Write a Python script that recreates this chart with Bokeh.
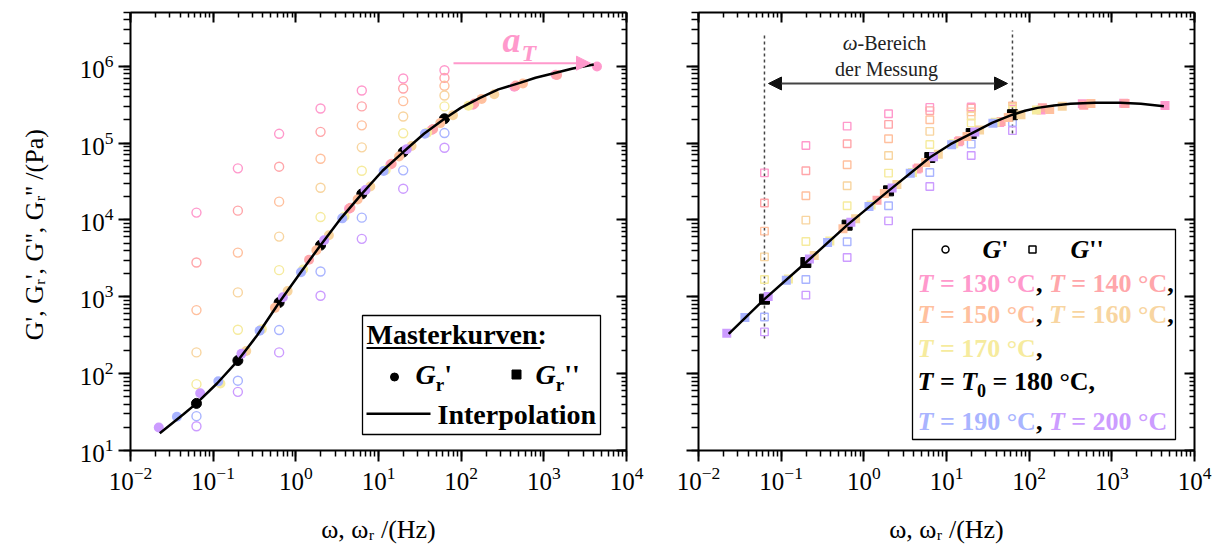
import numpy as np
from bokeh.plotting import figure
from bokeh.models import LogAxis, LogTicker, Arrow, NormalHead, Range1d, CustomJSTickFormatter
from bokeh.layouts import row
from bokeh.embed import file_html
from bokeh.resources import INLINE
from bokeh.core.properties import value

# ---------------- data ----------------
omega = [0.0628, 0.199, 0.628, 1.99, 6.28, 19.9, 62.8]          # Hz
temperatures = [130, 140, 150, 160, 170, 180, 190, 200]           # degC
colors = ["#FF99CC", "#FFA6AA", "#FFC09E", "#F8D5A0", "#F6EB9E",
          "#000000", "#A9B4FF", "#CC9CFF"]
a_T = [70, 23, 8.9, 4.0, 1.95, 1.0, 0.58, 0.35]                   # horizontal shift
b_T = [1.12, 1.09, 1.07, 1.04, 1.02, 1.0, 0.98, 0.96]             # vertical shift

# storage modulus G' (Pa)
G1_130 = [12450, 46900, 132000, 282000, 483000, 692000, 887000]
G1_140 = [2790, 13200, 49300, 140000, 300000, 513000, 705000]
G1_150 = [671, 3760, 17300, 62500, 170000, 351000, 556000]
G1_160 = [189, 1140, 6070, 26200, 88000, 222000, 416000]
G1_170 = [73, 372, 2220, 10900, 43700, 134000, 300000]
G1_180 = [41, 148, 843, 4690, 21800, 76400, 207000]
G1_190 = [28, 81, 369, 2130, 10700, 44200, 135000]
G1_200 = [20.7, 58, 189, 1030, 5670, 25500, 86900]

# loss modulus G'' (Pa)
G2_130 = [41000, 93000, 166000, 241000, 291000, 295000, 275000]
G2_140 = [16600, 43600, 98000, 175000, 264000, 285000, 300000]
G2_150 = [7150, 20600, 52200, 114000, 201000, 255000, 305000]
G2_160 = [3310, 9940, 27800, 69000, 142000, 225000, 290000]
G2_170 = [1675, 5230, 15300, 40700, 95900, 183000, 265000]
G2_180 = [931, 2790, 8550, 23900, 64900, 133000, 234000]
G2_190 = [547, 1675, 5190, 15300, 41400, 97000, 185000]
G2_200 = [349, 1050, 3240, 9730, 27200, 69000, 145000]

# interpolated master curves
master1_w = [0.0226, 0.0441, 0.0628, 0.112, 0.199, 0.341, 0.628, 1.12, 1.99, 3.55,
             6.28, 11.2, 19.9, 35.5, 62.8, 100, 169, 282, 513, 794, 1285, 2240, 4017]
master1_G = [16.8, 29.9, 41, 75, 148, 316, 843, 2010, 4690, 10650,
             21800, 43600, 76400, 132000, 207000, 289000, 387000, 500000, 607000, 708000,
             804000, 935000, 1050000]
master2_w = [0.0232, 0.0628, 0.199, 0.628, 1.99, 6.28, 11.2, 19.9, 35.5, 62.8, 89, 126,
             200, 316, 631, 1259, 2239, 4260]
master2_G = [330, 931, 2790, 8550, 23900, 64900, 96600, 133000, 183000, 234000, 263000, 287000,
             309000, 325000, 335000, 334000, 324000, 302000]

G1 = [G1_130, G1_140, G1_150, G1_160, G1_170, G1_180, G1_190, G1_200]
G2 = [G2_130, G2_140, G2_150, G2_160, G2_170, G2_180, G2_190, G2_200]

# ---------------- geometry / helpers ----------------
FW, FH = 496, 438
TOP = 12
L0, R0 = 130, 698
XLO, XHI = 1e-2, 1e4
YLO, YHI = 10, 5e6
FONT = "Liberation Serif"


def xpx(px, x0):
    return 10 ** (np.log10(XLO) + (np.log10(XHI) - np.log10(XLO)) * (px - x0) / FW)


def ypx(py):
    return 10 ** (np.log10(YLO) + (np.log10(YHI) - np.log10(YLO)) * (TOP + FH - py) / FH)


TB = {' ': 250, '=': 570, '\u00b0': 400, 'C': 722, ',': 250, "'": 278, 'r': 444, ':': 333, '-': 333}
for d in '0123456789':
    TB[d] = 500
TBI = {'T': 611, 'G': 722, 'a': 500}


def wid(s, size, italic=False):
    tab = TBI if italic else TB
    return sum(tab.get(c, 500) for c in s) * size / 1000.0


def put_text(p, x, base_px, s, color, size, style, align="left"):
    # place by baseline (screen px) using a middle anchor
    p.text(x=[x], y=[ypx(base_px - 0.33 * size)], text=[s], text_font=value(FONT),
           text_font_size=value(f"{size}px"), text_font_style=style, text_color=color,
           text_align=align, text_baseline="middle")


def seq(p, x0, px, base, pieces):
    x = px
    for s, style, color, size, dy in pieces:
        it = "italic" in style
        lead = len(s) - len(s.lstrip(' '))
        x += lead * 250 * size / 1000.0
        core = s.strip(' ')
        put_text(p, xpx(x, x0), base + dy, core, color, size, style)
        x += wid(core, size, it)
        trail = len(s) - len(s.rstrip(' '))
        x += trail * 250 * size / 1000.0
    return x


def style_axis(ax, labels=True, inward=False, major=11, minor=6):
    ax.ticker = LogTicker(num_minor_ticks=10)
    ax.axis_line_width = 2
    ax.axis_line_color = "black"
    ax.major_tick_line_width = 2
    ax.minor_tick_line_width = 1.5
    if inward:
        ax.major_tick_in, ax.major_tick_out = 10, 0
        ax.minor_tick_in, ax.minor_tick_out = 5, 0
    else:
        ax.major_tick_in, ax.major_tick_out = 0, major
        ax.minor_tick_in, ax.minor_tick_out = 0, minor
    ax.major_label_text_font = FONT
    ax.major_label_text_font_size = "25px"
    ax.major_label_text_color = "black"
    ax.axis_label_text_font = FONT
    ax.axis_label_text_font_size = "26px"
    ax.axis_label_text_font_style = "normal"
    ax.axis_label_text_color = "black"
    if not labels:
        ax.formatter = CustomJSTickFormatter(code="return ''")
        ax.major_label_standoff = 0


def make_fig(left_border, right_border, ylabels):
    p = figure(x_axis_type="log", y_axis_type="log",
               x_range=Range1d(XLO, XHI), y_range=Range1d(YLO, YHI),
               frame_width=FW, frame_height=FH,
               min_border_left=left_border, min_border_right=right_border,
               min_border_top=TOP, min_border_bottom=546 - TOP - FH,
               output_backend="svg", toolbar_location=None,
               background_fill_color="white", border_fill_color="white")
    p.xgrid.visible = False
    p.ygrid.visible = False
    p.outline_line_color = None
    xb = p.below[0]
    yl = p.left[0]
    style_axis(xb, labels=True, major=11, minor=6)
    style_axis(yl, labels=ylabels, major=12, minor=7)
    xb.axis_label = "\u03c9, \u03c9\u1d63 /(Hz)"
    xb.axis_label_standoff = 22
    top = LogAxis()
    right = LogAxis()
    style_axis(top, labels=False, inward=True)
    style_axis(right, labels=False, inward=True)
    p.add_layout(top, "above")
    p.add_layout(right, "right")
    return p, xb, yl


# ---------------- left panel: G' ----------------
p1, xb1, yl1 = make_fig(L0, R0 - L0 - FW - 36, True)
yl1.axis_label = "G', G\u1d63', G'', G\u1d63''  /(Pa)"
yl1.axis_label_standoff = 28

for i, T in enumerate(temperatures):
    if T == 180:
        continue
    p1.scatter(omega, G1[i], marker="circle", size=9, fill_color=None,
               line_color=colors[i], line_width=1.4)
p1.scatter(omega, G1_180, marker="circle", size=10, fill_color="black", line_color="black")
for i, T in enumerate(temperatures):
    if T == 180:
        continue
    xs = [w * a_T[i] for w in omega]
    ys = [g * b_T[i] for g in G1[i]]
    p1.scatter(xs, ys, marker="circle", size=10, fill_color=colors[i], line_color=None)
p1.line(master1_w, master1_G, line_color="black", line_width=2.5)

PINK = colors[0]
p1.add_layout(Arrow(end=NormalHead(size=14, fill_color=PINK, line_color=PINK),
                    x_start=xpx(453, L0), y_start=ypx(62.7), x_end=xpx(590, L0), y_end=ypx(62.7),
                    line_color=PINK, line_width=2))
put_text(p1, xpx(502, L0), 51, "a", PINK, 36, "bold italic")
put_text(p1, xpx(521, L0), 60, "T", PINK, 24, "bold italic")

# legend box (left)
p1.quad(left=[xpx(362, L0)], right=[xpx(600, L0)], top=[ypx(315)], bottom=[ypx(434)],
        fill_color="white", line_color="black", line_width=1.3)
end = seq(p1, L0, 366, 343, [("Masterkurven:", "bold", "black", 28, 0)])
p1.line([xpx(366, L0), xpx(end, L0)], [ypx(347.5), ypx(347.5)], line_color="black", line_width=2)
p1.scatter([xpx(394, L0)], [ypx(376.5)], marker="circle", size=8, fill_color="black", line_color="black")
seq(p1, L0, 415, 383, [("G", "bold italic", "black", 28, 0), ("r", "bold", "black", 19, 7),
                        ("'", "bold", "black", 28, 0)])
p1.scatter([xpx(516, L0)], [ypx(374)], marker="square", size=9, fill_color="black", line_color="black")
seq(p1, L0, 535, 383, [("G", "bold italic", "black", 28, 0), ("r", "bold", "black", 19, 7),
                        ("''", "bold", "black", 28, 0)])
p1.line([xpx(366, L0), xpx(430, L0)], [ypx(413.3), ypx(413.3)], line_color="black", line_width=2.5)
seq(p1, L0, 437, 423, [("Interpolation", "bold", "black", 28, 0)])

# ---------------- right panel: G'' ----------------
p2, xb2, yl2 = make_fig(36, 1225 - R0 - FW, False)

p2.segment(x0=[omega[0], omega[-1]], y0=[ypx(338), ypx(133)],
           x1=[omega[0], omega[-1]], y1=[ypx(33), ypx(30)],
           line_color="#444444", line_width=1.5, line_dash="3 3")

for i, T in enumerate(temperatures):
    if T == 180:
        continue
    p2.scatter(omega, G2[i], marker="square", size=7.5, fill_color=None,
               line_color=colors[i], line_width=1.4)
p2.scatter(omega, G2_180, marker="square", size=10, fill_color="black", line_color="black")
for i, T in enumerate(temperatures):
    if T == 180:
        continue
    xs = [w * a_T[i] for w in omega]
    ys = [g * b_T[i] for g in G2[i]]
    p2.scatter(xs, ys, marker="square", size=9, fill_color=colors[i], line_color=None)
p2.line(master2_w, master2_G, line_color="black", line_width=2.5)

p2.add_layout(Arrow(start=NormalHead(size=13, fill_color="#111111", line_color="#111111"),
                    end=NormalHead(size=13, fill_color="#111111", line_color="#111111"),
                    x_start=xpx(768, R0), y_start=ypx(83), x_end=xpx(1007, R0), y_end=ypx(83),
                    line_color="#444444", line_width=2))
put_text(p2, xpx(857, R0), 49, "\u03c9", "#222222", 21, "italic", align="right")
put_text(p2, xpx(857, R0), 49, "-Bereich", "#222222", 20, "normal")
put_text(p2, xpx(886, R0), 75, "der Messung", "#222222", 20, "normal", align="center")

# legend box (right)
p2.quad(left=[xpx(912, R0)], right=[xpx(1175, R0)], top=[ypx(229)], bottom=[ypx(439)],
        fill_color="white", line_color="black", line_width=1.3)
p2.scatter([xpx(945, R0)], [ypx(249)], marker="circle", size=7, fill_color=None,
           line_color="black", line_width=1.5)
seq(p2, R0, 982, 258, [("G", "bold italic", "black", 26, 0), ("'", "bold", "black", 26, 0)])
p2.scatter([xpx(1032, R0)], [ypx(249)], marker="square", size=7, fill_color=None,
           line_color="black", line_width=1.5)
seq(p2, R0, 1070, 258, [("G", "bold italic", "black", 26, 0), ("''", "bold", "black", 26, 0)])

FS = 26


def tpair(i):
    return [("T", "bold italic", colors[i], FS, 0),
            (f" = {temperatures[i]} \u00b0C", "bold", colors[i], FS, 0)]


seq(p2, R0, 917, 292, tpair(0) + [(", ", "bold", "black", FS, 0)] + tpair(1) +
    [(",", "bold", "black", FS, 0)])
seq(p2, R0, 917, 323, tpair(2) + [(", ", "bold", "black", FS, 0)] + tpair(3) +
    [(",", "bold", "black", FS, 0)])
seq(p2, R0, 917, 357, tpair(4) + [(",", "bold", "black", FS, 0)])
seq(p2, R0, 917, 390, [("T", "bold italic", "black", FS, 0), (" = ", "bold", "black", FS, 0),
                       ("T", "bold italic", "black", FS, 0), ("0", "bold", "black", 18, 6),
                       (f" = {temperatures[5]} \u00b0C,", "bold", "black", FS, 0)])
seq(p2, R0, 917, 430, tpair(6) + [(", ", "bold", "black", FS, 0)] + tpair(7))

layout = row(p1, p2)
open("out.html", "w").write(file_html(layout, INLINE))
